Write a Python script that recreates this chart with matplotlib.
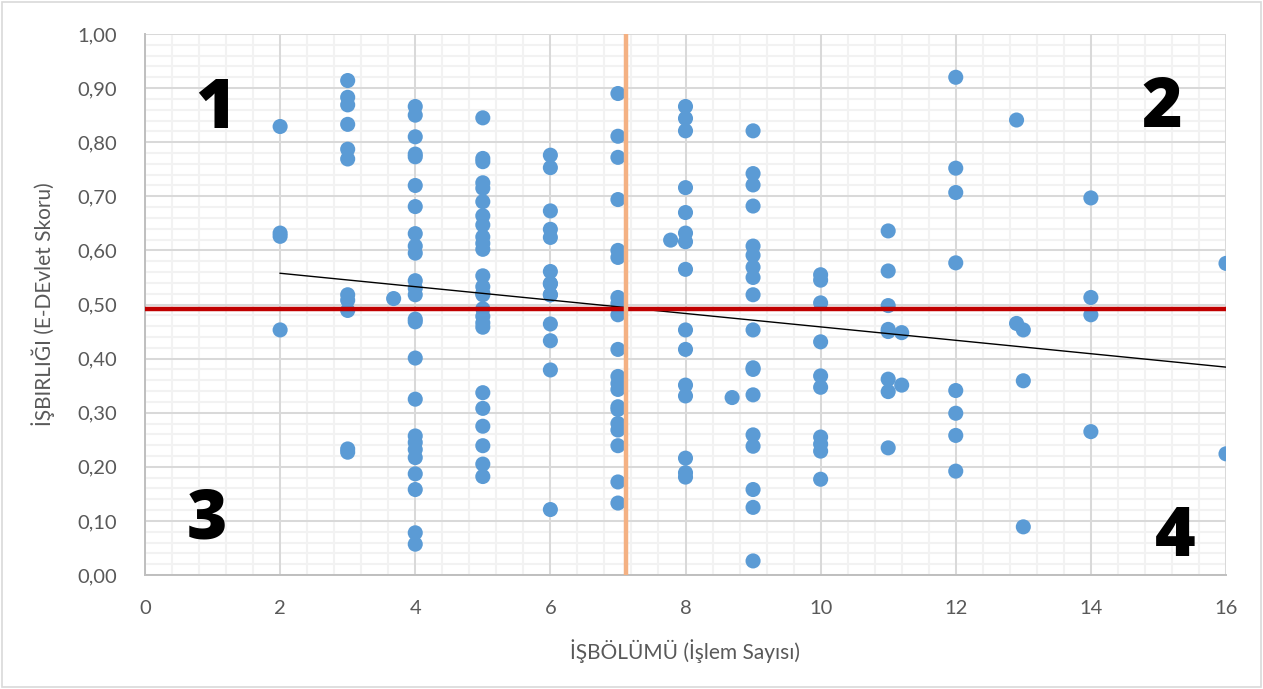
import numpy as np
import matplotlib
matplotlib.use("Agg")
import matplotlib.pyplot as plt
from matplotlib.ticker import FuncFormatter

# ---- data (x = işlem sayısı, y = e-devlet skoru) ----
x2 = [2, 2, 2, 2]
y2 = [0.829, 0.632, 0.626, 0.453]
x3 = [3] * 11
y3 = [0.914, 0.883, 0.869, 0.833, 0.787, 0.769, 0.518, 0.508, 0.489, 0.233, 0.227]
x37 = [3.68]
y37 = [0.511]
x4 = [4] * 25
y4 = [0.866, 0.850, 0.810, 0.778, 0.773, 0.720, 0.681, 0.631, 0.608, 0.595, 0.544,
      0.530, 0.518, 0.473, 0.468, 0.401, 0.325, 0.257, 0.245, 0.232, 0.217, 0.187,
      0.158, 0.078, 0.057]
x5 = [5] * 25
y5 = [0.845, 0.770, 0.764, 0.725, 0.715, 0.690, 0.664, 0.647, 0.625, 0.613, 0.602,
      0.553, 0.533, 0.518, 0.492, 0.478, 0.466, 0.458, 0.337, 0.308, 0.275, 0.239,
      0.205, 0.182, 0.521]
x6 = [6] * 14
y6 = [0.776, 0.753, 0.673, 0.639, 0.624, 0.561, 0.538, 0.518, 0.464, 0.433, 0.379,
      0.121, 0.539, 0.518]
x7 = [7] * 20
y7 = [0.890, 0.811, 0.772, 0.694, 0.600, 0.587, 0.513, 0.502, 0.481, 0.417, 0.367,
      0.354, 0.343, 0.311, 0.306, 0.280, 0.268, 0.239, 0.172, 0.133]
x78 = [7.78]
y78 = [0.619]
x8 = [8] * 15
y8 = [0.866, 0.844, 0.821, 0.716, 0.670, 0.632, 0.616, 0.565, 0.453, 0.417, 0.351,
      0.331, 0.216, 0.189, 0.181]
x87 = [8.69]
y87 = [0.328]
x9 = [9] * 18
y9 = [0.821, 0.742, 0.721, 0.682, 0.608, 0.591, 0.569, 0.550, 0.518, 0.453, 0.380,
      0.333, 0.259, 0.238, 0.158, 0.125, 0.026, 0.383]
x10 = [10] * 10
y10 = [0.555, 0.545, 0.503, 0.431, 0.368, 0.347, 0.255, 0.242, 0.229, 0.177]
y11 = [0.636, 0.562, 0.498, 0.454, 0.450, 0.339, 0.235, 0.362]
x11 = [11] * len(y11)
x112 = [11.2, 11.2]
y112 = [0.448, 0.351]
x12 = [12] * 8
y12 = [0.920, 0.752, 0.707, 0.577, 0.341, 0.299, 0.258, 0.192]
x129 = [12.9, 12.9]
y129 = [0.841, 0.465]
x13 = [13, 13, 13]
y13 = [0.453, 0.359, 0.089]
x14 = [14, 14, 14, 14]
y14 = [0.697, 0.513, 0.481, 0.265]
x16 = [16, 16]
y16 = [0.576, 0.224]

xs = np.array(x2 + x3 + x37 + x4 + x5 + x6 + x7 + x78 + x8 + x87 + x9 + x10 + x11 +
              x112 + x12 + x129 + x13 + x14 + x16, dtype=float)
ys = np.array(y2 + y3 + y37 + y4 + y5 + y6 + y7 + y78 + y8 + y87 + y9 + y10 + y11 +
              y112 + y12 + y129 + y13 + y14 + y16, dtype=float)

x_mean = 7.12      # vertical reference line
y_mean = 0.492     # horizontal reference line

quad_labels = ["1", "2", "3", "4"]
x_ticks = [0, 2, 4, 6, 8, 10, 12, 14, 16]
y_ticks = [0.0, 0.1, 0.2, 0.3, 0.4, 0.5, 0.6, 0.7, 0.8, 0.9, 1.0]
x_minor_step = 0.4
y_minor_step = 0.02

plt.rcParams['font.family'] = ['Lato', 'DejaVu Sans']

W, H = 1263, 689
fig = plt.figure(figsize=(W / 100, H / 100), dpi=100)
fig.patch.set_facecolor('white')
border = plt.Rectangle((2 / W, 2 / H), 1 - 4 / W, 1 - 4 / H, transform=fig.transFigure,
                       fill=False, edgecolor='#D9D9D9', linewidth=1.2)
fig.add_artist(border)

ax = fig.add_axes([145 / W, (H - 575) / H, 1081 / W, 541 / H])
ax.set_xlim(0, 16)
ax.set_ylim(0, 1.0)
ax.set_xticks(x_ticks)
ax.set_yticks(y_ticks)
ax.yaxis.set_major_formatter(FuncFormatter(lambda v, p: f"{v:.2f}".replace('.', ',')))
ax.xaxis.set_major_formatter(FuncFormatter(lambda v, p: f"{int(round(v))}"))

# gridlines: minor first, then major on top
xminor = np.arange(0, 16 + 1e-9, x_minor_step)
yminor = np.arange(0, 1.0 + 1e-9, y_minor_step)
for v in xminor:
    ax.axvline(v, color='#F2F2F2', linewidth=1.5, zorder=0.5)
for v in yminor:
    ax.axhline(v, color='#F2F2F2', linewidth=1.5, zorder=0.5)
for v in x_ticks:
    ax.axvline(v, color='#D9D9D9', linewidth=1.4, zorder=0.6)
for v in y_ticks:
    ax.axhline(v, color='#D9D9D9', linewidth=1.4, zorder=0.6)

ax.tick_params(which='both', length=0)
ax.tick_params(axis='both', labelsize=14.5, colors='#595959')
ax.tick_params(axis='y', pad=20)
ax.tick_params(axis='x', pad=18)
for s in ['top', 'right']:
    ax.spines[s].set_visible(False)
for s in ['left', 'bottom']:
    ax.spines[s].set_color('#BFBFBF')
    ax.spines[s].set_linewidth(1.4)
    ax.spines[s].set_zorder(0.7)

coef = np.polyfit(xs, ys, 1)
tx = np.array([xs.min(), xs.max()])
ax.plot(tx, np.polyval(coef, tx), color='black', linewidth=1.0, zorder=4)

ax.scatter(xs, ys, s=118, color='#5B9BD5', edgecolors='none', zorder=3)

ax.axhline(y_mean, color='#C00000', linewidth=3.2, zorder=5)
ax.axvline(x_mean, color='#F4B183', linewidth=3.2, zorder=5)

qkw = dict(fontsize=50, fontweight='heavy', color='black', ha='center', va='center',
           family=['Open Sans', 'DejaVu Sans'])
ax.text(1.05, 0.86, quad_labels[0], **qkw)
ax.text(15.05, 0.862, quad_labels[1], **qkw)
ax.text(0.92, 0.10, quad_labels[2], **qkw)
ax.text(15.25, 0.068, quad_labels[3], **qkw)

ax.set_xlabel("İŞBÖLÜMÜ (İşlem Sayısı)", fontsize=15, color='#595959', labelpad=16)
ax.set_ylabel("İŞBIRLIĞI (E-DEvlet Skoru)", fontsize=15, color='#595959', labelpad=16)

fig.savefig("out.png", dpi=100, facecolor='white')
